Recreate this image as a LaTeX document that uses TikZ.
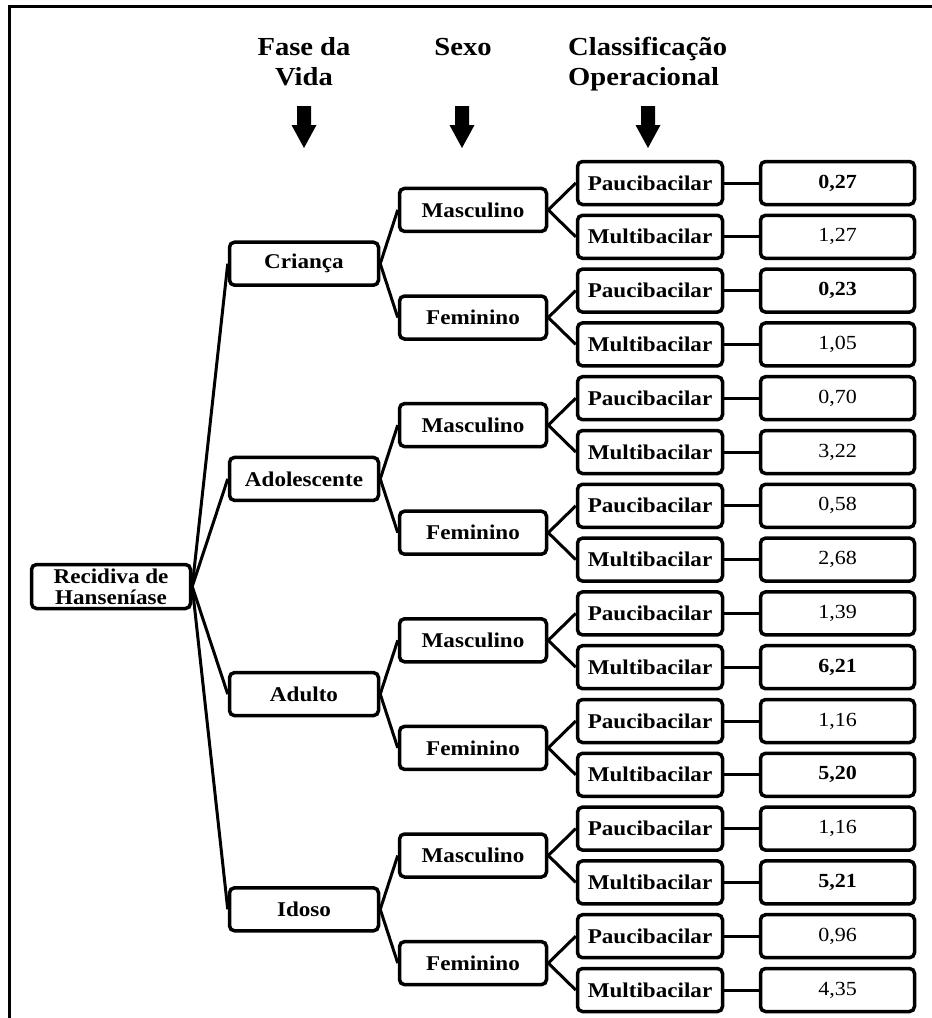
\documentclass[tikz,border=0pt]{standalone}
\usepackage{fontspec}
\newfontfamily\tnr[FakeStretch=1.1]{Liberation Serif}
\begin{document}
\begin{tikzpicture}[x=1pt,y=-1pt,
  box/.style={draw, line width=3.5pt, rounded corners=5pt, fill=white, inner sep=0pt,
    minimum height=43pt, align=center, font=\tnr\bfseries\fontsize{21}{21}\selectfont},
  rootbox/.style={box, minimum width=159pt, minimum height=44pt},
  agebox/.style={box, minimum width=149pt},
  sexbox/.style={box, minimum width=147pt},
  clsbox/.style={box, minimum width=145pt},
  valbox/.style={box, minimum width=154pt, font=\tnr\fontsize{20}{20}\selectfont},
  link/.style={line width=3pt},
  hdr/.style={inner sep=0pt, font=\tnr\bfseries\fontsize{26}{30}\selectfont},
  downarr/.pic={\fill[black] (-7,0) -- (7,0) -- (7,19) -- (12.5,19) -- (0,42) -- (-12.5,19) -- (-7,19) -- cycle;},
  frame/.style={line width=3pt}
]
\useasboundingbox (0,0) rectangle (932,1018);
% outer frame (cut by the page at right and bottom)
\coordinate (fbl) at (9.5,1018);
\coordinate (ftl) at (9.5,6.5);
\coordinate (ftr) at (932,6.5);
\draw[frame] (fbl) -- (ftl) -- (ftr);

% headers
\node[hdr, anchor=base, align=center] (hfase) at (304,85) {Fase da\\Vida};
\node[hdr, anchor=base] (hsexo) at (463,55) {Sexo};
\node[hdr, anchor=base west, align=left] (hclass) at (568,85) {Classificação\\Operacional};
\pic (a1) at (304,106) {downarr};
\pic (a2) at (462,106) {downarr};
\pic (a3) at (648,106) {downarr};

% root
\node[rootbox] (root) at (111,586.5) {Recidiva de\\Hanseníase};

% ages
\foreach \lab [count=\k] in {Criança, Adolescente, Adulto, Idoso} {
  \pgfmathsetmacro\yy{183+53.8*(4*(\k-1)+1.5)}
  \node[agebox] (age\k) at (304,\yy) {\lab};
}
% sexes
\foreach \j in {1,...,8} {
  \pgfmathsetmacro\yy{183+53.8*(2*(\j-1)+0.5)}
  \pgfmathtruncatemacro\odd{mod(\j,2)}
  \ifnum\odd=1 \def\lab{Masculino}\else\def\lab{Feminino}\fi
  \node[sexbox] (sex\j) at (473,\yy) {\lab};
}
% classes
\foreach \i in {1,...,16} {
  \pgfmathsetmacro\yy{183+53.8*(\i-1)}
  \pgfmathtruncatemacro\odd{mod(\i,2)}
  \ifnum\odd=1 \def\lab{Paucibacilar}\else\def\lab{Multibacilar}\fi
  \node[clsbox] (cls\i) at (650,\yy) {\lab};
}
% values
\foreach \i/\v/\w in {1/{0,27}/\bfseries, 2/{1,27}/\mdseries, 3/{0,23}/\bfseries, 4/{1,05}/\mdseries,
                      5/{0,70}/\mdseries, 6/{3,22}/\mdseries, 7/{0,58}/\mdseries, 8/{2,68}/\mdseries,
                      9/{1,39}/\mdseries, 10/{6,21}/\bfseries, 11/{1,16}/\mdseries, 12/{5,20}/\bfseries,
                      13/{1,16}/\mdseries, 14/{5,21}/\bfseries, 15/{0,96}/\mdseries, 16/{4,35}/\mdseries} {
  \pgfmathsetmacro\yy{183+53.8*(\i-1)}
  \node[valbox] (val\i) at (837.5,\yy) {\w\v};
}

% connectors
\foreach \k in {1,...,4} {
  \draw[link] (root.east) -- (age\k.west);
  \pgfmathtruncatemacro\sa{2*\k-1}
  \pgfmathtruncatemacro\sb{2*\k}
  \draw[link] (age\k.east) -- (sex\sa.west);
  \draw[link] (age\k.east) -- (sex\sb.west);
}
\foreach \j in {1,...,8} {
  \pgfmathtruncatemacro\ca{2*\j-1}
  \pgfmathtruncatemacro\cb{2*\j}
  \draw[link] (sex\j.east) -- (cls\ca.west);
  \draw[link] (sex\j.east) -- (cls\cb.west);
}
\foreach \i in {1,...,16} {
  \draw[link] (cls\i.east) -- (val\i.west);
}
\end{tikzpicture}
\end{document}
